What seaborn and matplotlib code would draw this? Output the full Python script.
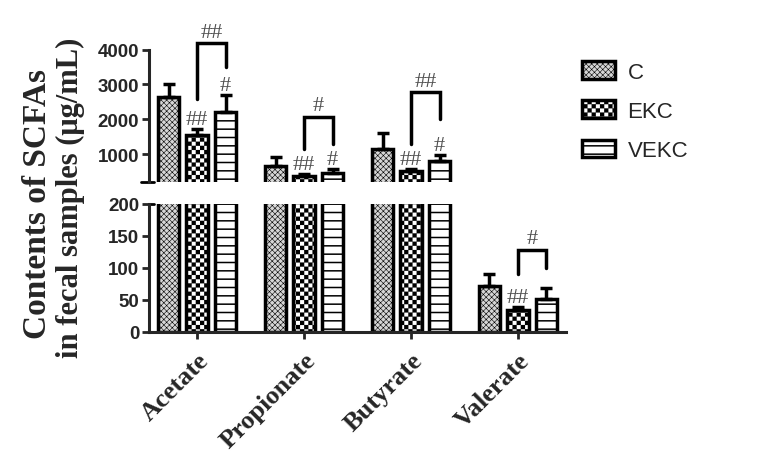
import numpy as np
import pandas as pd
import matplotlib
matplotlib.use("Agg")
import matplotlib.pyplot as plt
import matplotlib.hatch as mhatch
from matplotlib.path import Path
import seaborn as sns
from matplotlib.patches import Patch

# data
categories = ["Acetate", "Propionate", "Butyrate", "Valerate"]
groups = ["C", "EKC", "VEKC"]

c_mean = [2650, 650, 1150, 71]
c_err = [370, 280, 450, 19]
ekc_mean = [1550, 360, 510, 34]
ekc_err = [180, 80, 70, 5]
vekc_mean = [2200, 470, 800, 51]
vekc_err = [490, 90, 170, 18]

# significance marks over single bars (vs C)
ekc_marks = ["##", "##", "##", "##"]
vekc_marks = ["#", "#", "#", ""]

# EKC vs VEKC brackets
bracket_text = ["##", "#", "##", "#"]
bracket_top = [4180, 2080, 2780, 128]
bracket_left = [2590, 1160, 1300, 90]
bracket_right = [3500, 1300, 2020, 100]

df = pd.DataFrame({
    "acid": categories * 3,
    "group": np.repeat(groups, len(categories)),
    "value": c_mean + ekc_mean + vekc_mean,
})
errs = {"C": c_err, "EKC": ekc_err, "VEKC": vekc_err}


# checkerboard hatch (GraphPad style) put in place of the '*' pattern
ekc_hatch = ".."
try:
    class CheckerHatch(mhatch.Shapes):
        filled = True
        size = 1.0

        def __init__(self, hatch, density):
            self.num_rows = hatch.count("*") * density
            verts, codes = [], []
            for i in range(4):
                for j in range(4):
                    if (i + j) % 2:
                        continue
                    x0, y0 = -0.5 + i * 0.25, -0.5 + j * 0.25
                    verts += [[x0, y0], [x0 + 0.25, y0], [x0 + 0.25, y0 + 0.25],
                              [x0, y0 + 0.25], [x0, y0]]
                    codes += [Path.MOVETO, Path.LINETO, Path.LINETO, Path.LINETO,
                              Path.CLOSEPOLY]
            self.shape_vertices = np.array(verts, dtype=float)
            self.shape_codes = np.array(codes, dtype=Path.code_type)
            super().__init__(hatch, density)

    mhatch._hatch_types = [h for h in mhatch._hatch_types
                           if h is not mhatch.Stars] + [CheckerHatch]
    ekc_hatch = "*"
except Exception:
    pass

face = {"C": "#d6d6d6", "EKC": "white", "VEKC": "white"}
hatches = {"C": "xxxxxx", "EKC": ekc_hatch, "VEKC": "--"}
hatch_lw = {"C": 0.4, "EKC": 0.1, "VEKC": 1.1}

serif = ["Liberation Serif", "DejaVu Serif"]

sns.set_theme(style="ticks")
plt.rcParams["font.family"] = ["Liberation Sans", "DejaVu Sans"]
plt.rcParams["hatch.linewidth"] = 0.8

fig = plt.figure(figsize=(7.73, 4.77), dpi=100)
ax_top = fig.add_axes([0.1928, 0.6164, 0.5395, 0.2774])
ax_bot = fig.add_axes([0.1928, 0.3025, 0.5395, 0.2683])

centers = {}
for ax in (ax_top, ax_bot):
    sns.barplot(data=df, x="acid", y="value", hue="group", order=categories,
                hue_order=groups, palette=face, saturation=1, width=0.8, gap=0.25,
                edgecolor="black", linewidth=2.5, errorbar=None, legend=False, ax=ax)
    bars = list(ax.containers)
    for grp, cont in zip(groups, bars):
        for b in cont:
            b.set_hatch(hatches[grp])
            if hasattr(b, "set_hatch_linewidth"):
                b.set_hatch_linewidth(hatch_lw[grp])
        xs = [b.get_x() + b.get_width() / 2 for b in cont]
        ys = [b.get_height() for b in cont]
        centers[grp] = xs
        ax.errorbar(xs, ys, yerr=[np.zeros(len(xs)), errs[grp]], fmt="none",
                    ecolor="black", elinewidth=2.5, capsize=4, capthick=2.5, zorder=3)
    ax.set_xlim(-0.45, 3.45)
    ax.set_xlabel("")
    ax.set_ylabel("")
    for s in ax.spines.values():
        s.set_linewidth(2.2)
    ax.tick_params(width=2, length=5, labelsize=13.5, pad=2)

ax_top.set_ylim(200, 4000)
ax_top.set_yticks([1000, 2000, 3000, 4000])
ax_top.spines[["top", "right", "bottom"]].set_visible(False)
ax_top.tick_params(axis="x", bottom=False, labelbottom=False)

ax_bot.set_ylim(0, 200)
ax_bot.set_yticks([0, 50, 100, 150, 200])
ax_bot.spines[["top", "right"]].set_visible(False)
ax_bot.set_xticks(range(len(categories)))
ax_bot.set_xticklabels(categories, rotation=45, ha="right", rotation_mode="anchor",
                       fontsize=19, fontweight="bold", family=serif)
ax_bot.tick_params(axis="x", pad=7)

for ax in (ax_top, ax_bot):
    plt.setp(ax.get_yticklabels(), fontweight="bold")

# axis break marks
ax_top.plot([-0.02, 0.012], [0, 0], transform=ax_top.transAxes, color="black",
            lw=2, clip_on=False)
ax_bot.plot([0, 0.012], [1, 1], transform=ax_bot.transAxes, color="black",
            lw=2, clip_on=False)

ann = dict(family=serif, fontsize=16, color="#505050")
for j in range(len(categories)):
    # marks above EKC / VEKC error bars
    for grp, mean, err, marks in (("EKC", ekc_mean, ekc_err, ekc_marks),
                                  ("VEKC", vekc_mean, vekc_err, vekc_marks)):
        if not marks[j]:
            continue
        top = mean[j] + err[j]
        ax = ax_top if top > 200 else ax_bot
        ax.annotate(marks[j], xy=(centers[grp][j], top), xytext=(0, 0),
                    textcoords="offset points", ha="center", va="bottom",
                    annotation_clip=False, **ann)
    # bracket EKC vs VEKC
    ax = ax_top if bracket_top[j] > 200 else ax_bot
    xl, xr = centers["EKC"][j], centers["VEKC"][j]
    ax.plot([xl, xl, xr, xr],
            [bracket_left[j], bracket_top[j], bracket_top[j], bracket_right[j]],
            color="black", lw=2.5, clip_on=False, solid_joinstyle="miter")
    ax.annotate(bracket_text[j], xy=((xl + xr) / 2, bracket_top[j]), xytext=(0, 1),
                textcoords="offset points", ha="center", va="bottom",
                annotation_clip=False, **ann)

fig.text(0.049, 0.573, "Contents of SCFAs", rotation=90, ha="center", va="center",
         fontsize=24, fontweight="bold", family=serif)
fig.text(0.0915, 0.586, "in fecal samples (μg/mL)", rotation=90, ha="center",
         va="center", fontsize=22, fontweight="bold", family=serif)

handles = [Patch(facecolor=face[g], edgecolor="black", hatch=hatches[g],
                 linewidth=2.5, label=g) for g in groups]
leg = fig.legend(handles=handles, loc="upper left", bbox_to_anchor=(0.753, 0.87),
                 frameon=False, fontsize=16, handlelength=1.5, handleheight=0.85,
                 handletextpad=0.55, labelspacing=0.8, borderpad=0, borderaxespad=0)
for p, g in zip(leg.get_patches(), groups):
    if hasattr(p, "set_hatch_linewidth"):
        p.set_hatch_linewidth(hatch_lw[g])

fig.savefig("out.png", dpi=100)
